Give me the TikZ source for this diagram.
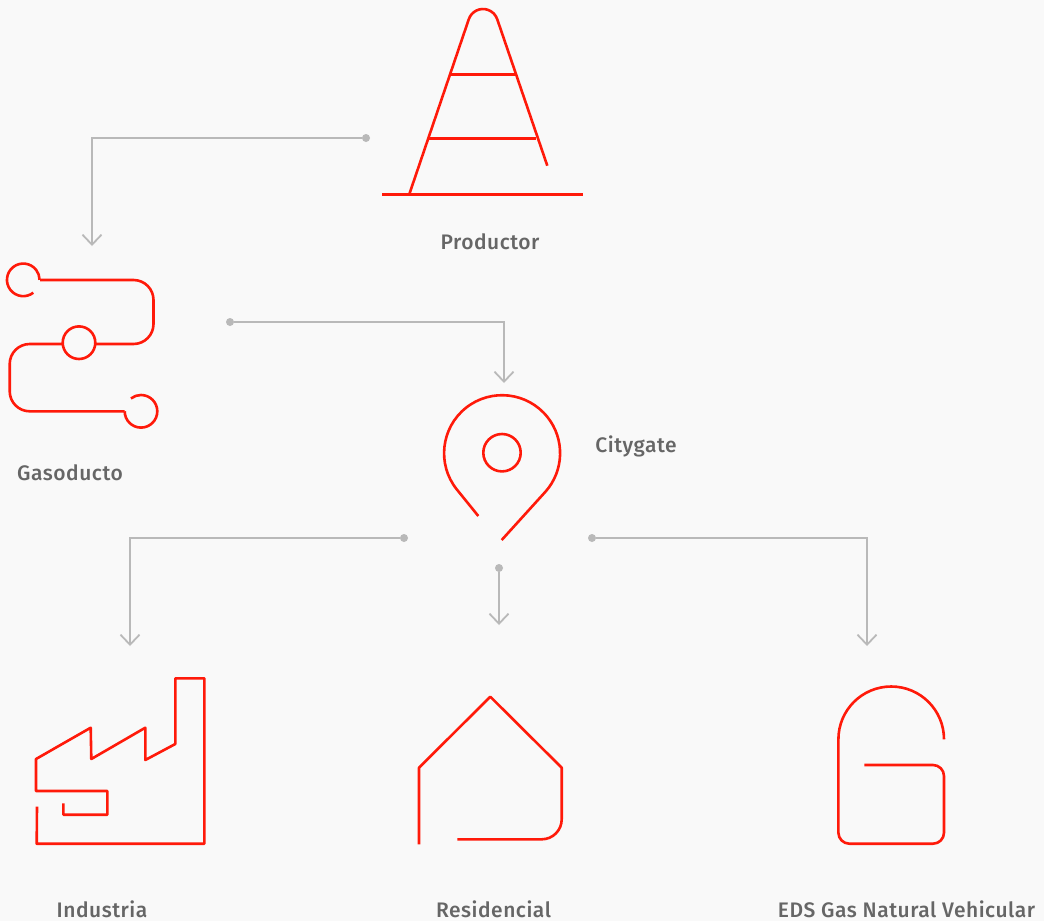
\documentclass[tikz,border=0pt]{standalone}
\usepackage{fontspec}
\setmainfont{Fira Sans}[BoldFont={Fira Sans Medium},LetterSpace=2.5]
\usepackage{xcolor}
\usetikzlibrary{arrows.meta,positioning,calc}
\definecolor{iconred}{HTML}{FF1A0A}
\definecolor{linkgray}{HTML}{B9B9B9}
\definecolor{labelgray}{HTML}{666666}
\definecolor{pagebg}{HTML}{F9F9F9}

\begin{document}
\begin{tikzpicture}[x=1pt, y=-1pt,
        icon/.style={draw=iconred, line width=2.6pt, line join=round},
        link/.style={draw=linkgray, line width=1.8pt, -{Straight Barb[length=10pt,width=19pt,line width=1.8pt]}},
        dotnode/.style={circle, fill=linkgray, inner sep=0pt, minimum size=8pt},
        label/.style={text=labelgray, font=\fontsize{21}{25}\selectfont\bfseries}]
        \fill[pagebg] (0,0) rectangle (1044,921);

        % Productor
        \draw[icon] (409.3,194.2) -- (468.8,19.2) arc (198.7:341.3:15) -- (547.3,165.7);
        \draw[icon] (451,74.7) -- (515,74.7);
        \draw[icon] (429.3,138.3) -- (535.7,138.3);
        \draw[icon] (382.3,194.2) -- (583.3,194.2);

        % Gasoducto
        \draw[icon] (33.3,292.7) arc (52:360:16.3);
        \draw[icon, rounded corners=20pt] (40,280) -- (153.5,280) -- (153.5,344) -- (95.3,344);
        \draw[icon] (79,342.7) circle (16.3);
        \draw[icon, rounded corners=20pt] (62.7,344) -- (9.7,344) -- (9.7,411.3) -- (124.7,411.3);
        \draw[icon] (124.7,411.3) arc (180:-128:16.3);

        % Citygate
        \draw[icon] (478.3,516) -- (456.7,489.3) arc (141.5:401.8:58) -- (501.7,540);
        \draw[icon] (502,452.7) circle (18.7);

        % Industria
        \draw[icon] (37,806.7) -- (36.7,843.7) -- (204.3,843.7) -- (204.3,678.3) -- (175.3,678.3) -- (175.3,744)
            -- (145.3,760) -- (145.3,727.7) -- (91.3,759) -- (90.7,727.7) -- (36,759) -- (36,791)
            -- (107.3,791) -- (107.3,814.7) -- (63.3,814.7) -- (63.3,803.3);

        % Residencial
        \draw[icon, rounded corners=0pt] (419,844.3) -- (419,767.7) -- (490.3,696.7) -- (561.7,767.7)
            [rounded corners=20pt] -- (561.7,839.3) -- (457.3,839.3);

        % EDS Gas Natural Vehicular
        \draw[icon] (944,739.3) arc (0:-180:52.8) [rounded corners=11pt] -- (838.4,843.7) -- (944,843.7)
            -- (944,765) -- (864.3,765);

        % labels
        \node[label] (productor) at (490,242) {Productor};
        \node[label] (gasoducto) at (70,472.5) {Gasoducto};
        \node[label] (citygate) at (636,446) {Citygate};
        \node[label] (industria) at (102,909) {Industria};
        \node[label] (residencial) at (493.5,909) {Residencial};
        \node[label] (eds) at (906.5,909) {EDS Gas Natural Vehicular};

        % connectors: the dot is where each one starts
        \node[dotnode] (productor-dot) at (366,138) {};
        \node[dotnode] (gasoducto-dot) at (230,322) {};
        \node[dotnode] (industria-dot) at (404,538) {};
        \node[dotnode] (residencial-dot) at (499,568) {};
        \node[dotnode] (eds-dot) at (592,538) {};
        \coordinate (gasoducto-in) at (92,246);
        \coordinate (citygate-in) at (504,383);
        \coordinate (industria-in) at (130,646);
        \coordinate (residencial-in) at (499,625);
        \coordinate (eds-in) at (867,646);

        \draw[link] (productor-dot) -| (gasoducto-in);
        \draw[link] (gasoducto-dot) -| (citygate-in);
        \draw[link] (industria-dot) -| (industria-in);
        \draw[link] (residencial-dot) -- (residencial-in);
        \draw[link] (eds-dot) -| (eds-in);
    \end{tikzpicture}
\end{document}
